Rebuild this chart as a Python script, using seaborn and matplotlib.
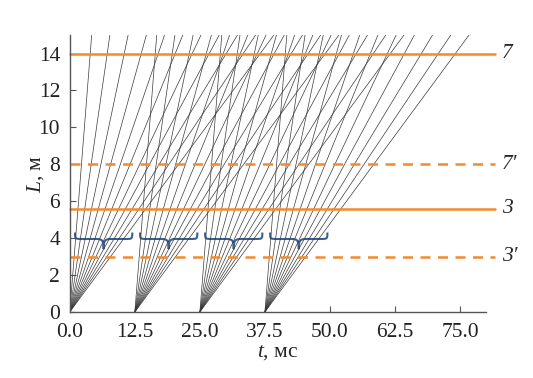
import numpy as np
import matplotlib
matplotlib.use("Agg")
import matplotlib.pyplot as plt
import seaborn as sns
from matplotlib.path import Path
from matplotlib.patches import PathPatch

# fan start times (ms)
starts = [0.0, 12.5, 25.0, 37.5]
# time (after start) at which each ray reaches L = 15 m
arrival = [4.2, 7.7, 11.2, 14.7, 18.2, 21.7, 25.2, 28.7, 32.2, 35.7, 39.2]
top_L = 15.0

# horizontal levels
levels = [14.0, 8.0, 5.6, 3.0]
level_labels = ["7", "7\u2032", "3", "3\u2032"]
level_styles = ["-", "--", "-", "--"]

# braces: offsets from each fan start
brace_x0, brace_x1 = 1.0, 12.0
brace_top, brace_bar, brace_tip = 4.3, 3.95, 3.4

xticks = [0.0, 12.5, 25.0, 37.5, 50.0, 62.5, 75.0]
yticks = [0, 2, 4, 6, 8, 10, 12, 14]

orange = "#F28A2E"
blue = "#3A5F92"

sns.set_theme(style="ticks")
plt.rcParams["font.family"] = ["Liberation Serif", "DejaVu Serif"]
plt.rcParams["mathtext.fontset"] = "custom"
plt.rcParams["mathtext.it"] = "Liberation Serif:italic"
plt.rcParams["mathtext.rm"] = "Liberation Serif"

fig = plt.figure(figsize=(5.33, 3.78), dpi=100)
ax = fig.add_axes([0.131, 0.175, 0.781, 0.732])

for t0 in starts:
    for dt in arrival:
        sns.lineplot(x=[t0, t0 + dt], y=[0, top_L], ax=ax, color="#3a3a3a",
                     linewidth=0.5, estimator=None, sort=False)

for y, lab, ls in zip(levels, level_labels, level_styles):
    ax.plot([0, 81.7], [y, y], color=orange, linestyle=ls, linewidth=1.8,
            dashes=(4, 3) if ls == "--" else (None, None), clip_on=False)
    ax.text(83.0, y, lab, fontsize=15.5, fontstyle="italic", va="center",
            ha="left", clip_on=False)


def brace(x0, x1):
    xm = (x0 + x1) / 2
    r = 1.4
    verts = [
        (x0, brace_top),
        (x0, brace_bar), (x0, brace_bar), (x0 + r, brace_bar),
        (xm - r, brace_bar),
        (xm - 0.2, brace_bar), (xm, brace_bar - 0.1), (xm, brace_tip),
        (xm, brace_bar - 0.1), (xm + 0.2, brace_bar), (xm + r, brace_bar),
        (x1 - r, brace_bar),
        (x1, brace_bar), (x1, brace_bar), (x1, brace_top),
    ]
    codes = [Path.MOVETO,
             Path.CURVE4, Path.CURVE4, Path.CURVE4,
             Path.LINETO,
             Path.CURVE4, Path.CURVE4, Path.CURVE4,
             Path.CURVE4, Path.CURVE4, Path.CURVE4,
             Path.LINETO,
             Path.CURVE4, Path.CURVE4, Path.CURVE4]
    return PathPatch(Path(verts, codes), facecolor="none", edgecolor=blue,
                     linewidth=1.5)


for t0 in starts:
    ax.add_patch(brace(t0 + brace_x0, t0 + brace_x1))

ax.set_xlim(0, 80)
ax.set_ylim(0, 15)
ax.set_xticks(xticks)
ax.set_xticklabels([f"{v:.1f}" for v in xticks])
ax.set_yticks(yticks)
ax.tick_params(direction="in", labelsize=15.5, length=4, width=0.8,
               colors="#555555", labelcolor="#222222")
ax.tick_params(axis="x", pad=8)
ax.tick_params(axis="y", pad=7)
sns.despine(ax=ax)
for s in ["left", "bottom"]:
    ax.spines[s].set_color("#555555")
    ax.spines[s].set_linewidth(1.0)

ax.set_xlabel("$\\mathit{t}$, мс", fontsize=15.5, labelpad=1)
ax.set_ylabel("$\\mathit{L}$, м", fontsize=15.5, labelpad=-5)

fig.savefig("out.png", dpi=100)
